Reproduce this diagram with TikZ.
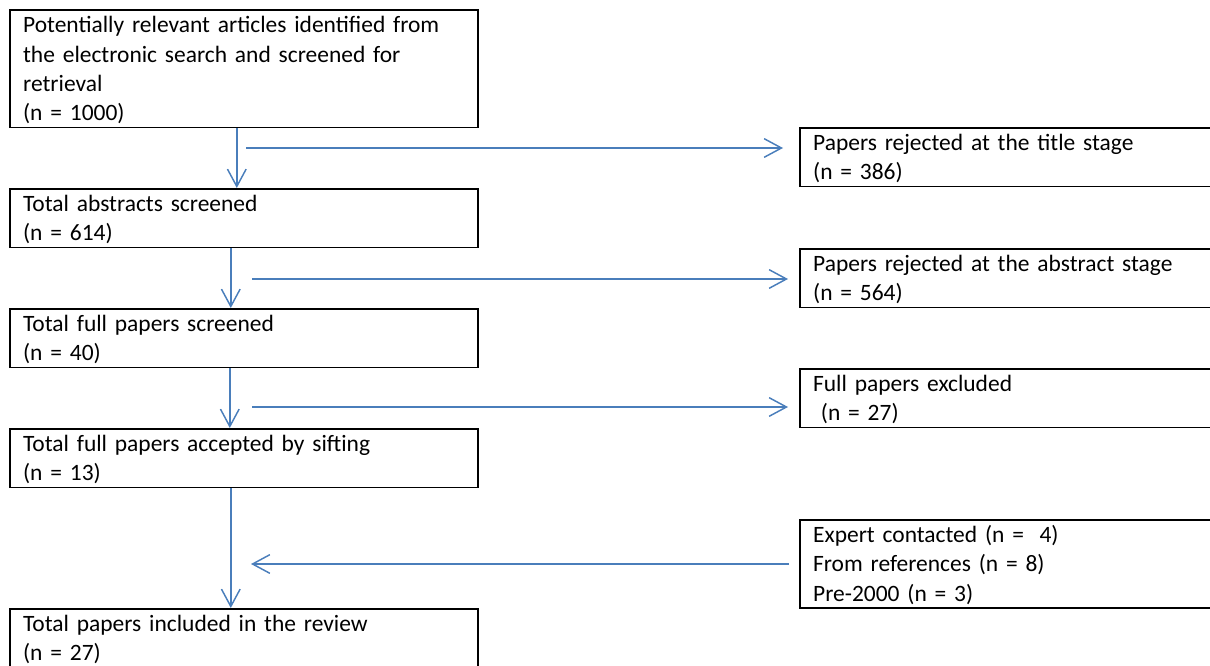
\documentclass[tikz,border=0pt]{standalone}
\usepackage{fontspec}
\setmainfont{Carlito}
\usetikzlibrary{arrows.meta}
\definecolor{flowblue}{RGB}{74,126,187}
\newcommand{\topstrut}{\rule{0pt}{17pt}}
\newcommand{\botstrut}{\rule[-5pt]{0pt}{5pt}}

\begin{document}
\begin{tikzpicture}[x=0.75pt, y=-0.75pt, >={Straight Barb[length=13pt,width=14pt]}]
    \tikzstyle{box} = [draw, line width=1.2pt, rectangle, anchor=north west, align=left, inner xsep=10pt, inner ysep=0pt, font=\fontsize{17.6}{22}\selectfont, execute at begin node=\topstrut, execute at end node=\botstrut]
    \tikzstyle{stage} = [box, text width=331pt]
    \tikzstyle{side} = [box, text width=295.75pt]
    \tikzstyle{flow} = [->, draw=flowblue, line width=1.1pt]

    \clip (0,0) rectangle (1210,666);

    % main column
    \node [stage] (found) at (9,9.3) {Potentially relevant articles identified from\\the electronic search and screened for\\retrieval\\(n = 1000)};
    \node [stage] (abstracts) at (9,188) {Total abstracts screened\\(n = 614)};
    \node [stage] (fullpapers) at (9,308) {Total full papers screened\\(n = 40)};
    \node [stage] (accepted) at (9,428) {Total full papers accepted by sifting\\(n = 13)};
    \node [stage] (included) at (9,608) {Total papers included in the review\\(n = 27)};

    % side boxes
    \node [side] (rejtitle) at (799,127) {Papers rejected at the title stage\\(n = 386)};
    \node [side] (rejabstract) at (799,248) {Papers rejected at the abstract stage\\(n = 564)};
    \node [side] (excluded) at (799,368) {Full papers excluded\\\mbox{}\ (n = 27)};
    \node [side] (extra) at (799,519) {Expert contacted (n =\ \ 4)\\From references (n = 8)\\Pre-2000 (n = 3)};

    \coordinate (out1) at (246,148);
    \coordinate (out2) at (252,279);
    \coordinate (out3) at (252,407);
    \coordinate (in4) at (251,564);

    \draw [flow] ([xshift=-5.25pt]found.south) -- ([xshift=-5.25pt]abstracts.north);
    \draw [flow] ([xshift=-9.75pt]abstracts.south) -- ([xshift=-9.75pt]fullpapers.north);
    \draw [flow] ([xshift=-10.5pt]fullpapers.south) -- ([xshift=-10.5pt]accepted.north);
    \draw [flow] ([xshift=-9.75pt]accepted.south) -- ([xshift=-9.75pt]included.north);

    \draw [flow, shorten >=12pt] (out1) -- (rejtitle.west |- out1);
    \draw [flow, shorten >=8.25pt] (out2) -- (rejabstract.west |- out2);
    \draw [flow, shorten >=8.25pt] (out3) -- (excluded.west |- out3);
    \draw [flow, shorten <=7.5pt] (extra.west |- in4) -- (in4);
\end{tikzpicture}
\end{document}
